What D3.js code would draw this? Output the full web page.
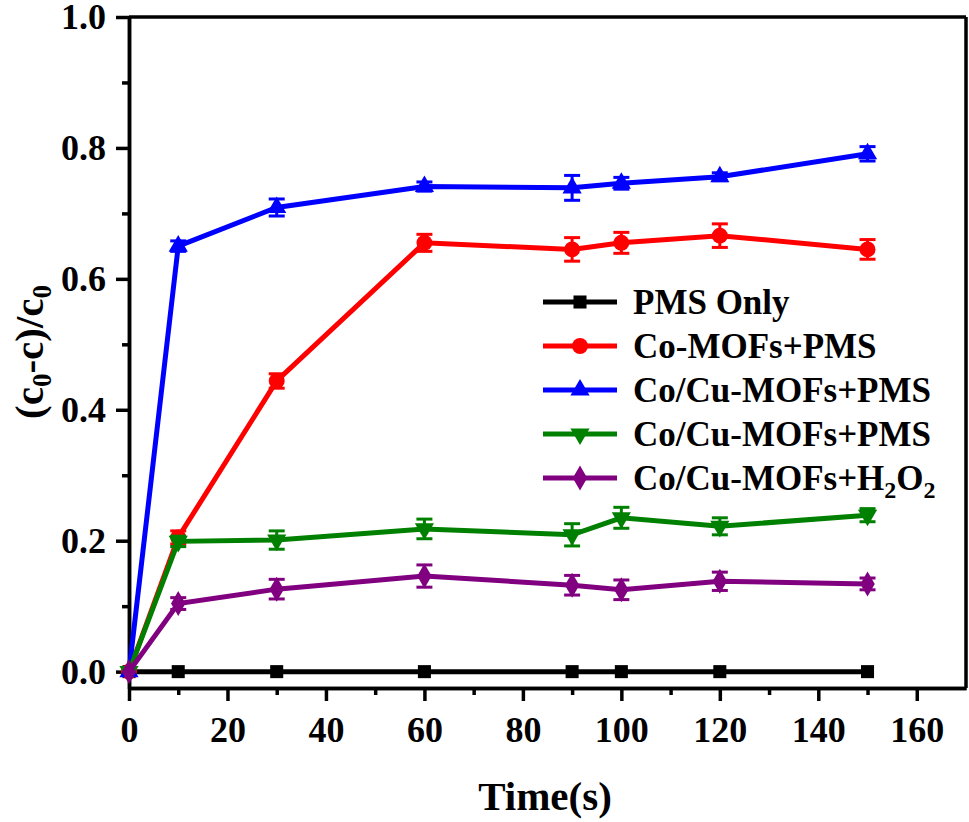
<!DOCTYPE html>
<html>
<head>
<meta charset="utf-8">
<script src="https://cdn.jsdelivr.net/npm/d3@7"></script>
<style>
  html, body { margin: 0; padding: 0; background: #fff; }
  svg text { font-family: "Liberation Serif", "Times New Roman", serif; font-weight: bold; fill: #000; }
</style>
</head>
<body>
<svg id="chart" width="969" height="822"></svg>
<script>
const times = [0, 10, 30, 60, 90, 100, 120, 150];
const pmsOnly     = [0, 0, 0, 0, 0, 0, 0, 0];
const pmsOnlyErr  = [0, 0, 0, 0, 0, 0, 0, 0];
const coPms       = [0, 0.205, 0.444, 0.655, 0.645, 0.655, 0.666, 0.645];
const coPmsErr    = [0, 0.010, 0.011, 0.013, 0.018, 0.016, 0.018, 0.015];
const coCuPms     = [0, 0.650, 0.709, 0.741, 0.739, 0.746, 0.756, 0.791];
const coCuPmsErr  = [0, 0.008, 0.013, 0.007, 0.019, 0.009, 0.006, 0.011];
const coCuPms2    = [0, 0.199, 0.201, 0.218, 0.209, 0.235, 0.222, 0.239];
const coCuPms2Err = [0, 0.008, 0.014, 0.015, 0.017, 0.016, 0.013, 0.010];
const coCuH2O2    = [0, 0.104, 0.126, 0.146, 0.132, 0.125, 0.138, 0.134];
const coCuH2O2Err = [0, 0.009, 0.015, 0.017, 0.015, 0.015, 0.014, 0.009];
const xTicks = [0, 20, 40, 60, 80, 100, 120, 140, 160];
const yTicks = [0.0, 0.2, 0.4, 0.6, 0.8, 1.0];

const series = [
  {name: "PMS Only", values: pmsOnly, err: pmsOnlyErr, color: "#000000", symbol: d3.symbolSquare, size: 170, rot: 0},
  {name: "Co-MOFs+PMS", values: coPms, err: coPmsErr, color: "#ff0000", symbol: d3.symbolCircle, size: 200, rot: 0},
  {name: "Co/Cu-MOFs+PMS", values: coCuPms, err: coCuPmsErr, color: "#0000ff", symbol: d3.symbolTriangle, size: 160, rot: 0},
  {name: "Co/Cu-MOFs+PMS", values: coCuPms2, err: coCuPms2Err, color: "#008000", symbol: d3.symbolTriangle, size: 160, rot: 180},
  {name: "Co/Cu-MOFs+H2O2", values: coCuH2O2, err: coCuH2O2Err, color: "#800080", symbol: d3.symbolDiamond, size: 180, rot: 0, sub: true}
];

const svg = d3.select("#chart");
const mLeft = 129, mRight = 966, mTop = 17, mBottom = 688;
const x = d3.scaleLinear().domain([0, 170]).range([mLeft, mRight]);
const y = d3.scaleLinear().domain([-0.025, 1.0]).range([mBottom, mTop]);

// Frame (top and right)
svg.append("line").attr("x1", mLeft).attr("x2", mRight).attr("y1", mTop).attr("y2", mTop)
  .attr("stroke", "#000").attr("stroke-width", 3.5);
svg.append("line").attr("x1", mRight).attr("x2", mRight).attr("y1", mTop).attr("y2", mBottom)
  .attr("stroke", "#000").attr("stroke-width", 3.5);

// Axes
const xAxis = d3.axisBottom(x).tickValues(xTicks).tickFormat(d3.format("d")).tickSize(13).tickSizeOuter(0).tickPadding(15);
const xMinor = d3.axisBottom(x).tickValues(d3.range(10, 170, 20)).tickFormat("").tickSize(7).tickSizeOuter(0);
const yAxis = d3.axisLeft(y).tickValues(yTicks).tickFormat(d3.format(".1f")).tickSize(13).tickSizeOuter(0).tickPadding(10);
const yMinor = d3.axisLeft(y).tickValues(d3.range(0.1, 1.0, 0.2)).tickFormat("").tickSize(7).tickSizeOuter(0);

function styleAxis(g) {
  g.select(".domain").attr("stroke", "#000").attr("stroke-width", 3.5);
  g.selectAll(".tick line").attr("stroke", "#000").attr("stroke-width", 3.5);
  g.selectAll("text").style("font-size", "36px").attr("fill", "#000");
}
const gx = svg.append("g").attr("transform", `translate(0,${mBottom})`).call(xAxis).call(styleAxis);
gx.selectAll(".tick text").attr("dy", "0.71em");
svg.append("g").attr("transform", `translate(0,${mBottom})`).call(xMinor).call(styleAxis);
const gy = svg.append("g").attr("transform", `translate(${mLeft},0)`).call(yAxis).call(styleAxis);
svg.append("g").attr("transform", `translate(${mLeft},0)`).call(yMinor).call(styleAxis);

// Axis titles
svg.append("text").attr("x", 545).attr("y", 810).attr("text-anchor", "middle")
  .style("font-size", "41px").text("Time(s)");
const yt = svg.append("text").attr("transform", "translate(43,352) rotate(-90)")
  .attr("text-anchor", "middle").style("font-size", "41px");
yt.append("tspan").text("(c");
yt.append("tspan").attr("dy", 8).style("font-size", "27px").text("0");
yt.append("tspan").attr("dy", -8).text("-c)/c");
yt.append("tspan").attr("dy", 8).style("font-size", "27px").text("0");

// Series
const line = d3.line().x((d, i) => x(times[i])).y(d => y(d));
series.forEach(s => {
  const g = svg.append("g");
  g.append("path").datum(s.values).attr("d", line).attr("fill", "none")
    .attr("stroke", s.color).attr("stroke-width", 5);
  s.values.forEach((v, i) => {
    const e = s.err[i];
    if (e > 0) {
      const cx = x(times[i]);
      g.append("line").attr("x1", cx).attr("x2", cx).attr("y1", y(v - e)).attr("y2", y(v + e))
        .attr("stroke", s.color).attr("stroke-width", 3);
      [v - e, v + e].forEach(c => {
        g.append("line").attr("x1", cx - 8).attr("x2", cx + 8).attr("y1", y(c)).attr("y2", y(c))
          .attr("stroke", s.color).attr("stroke-width", 3);
      });
    }
    g.append("path").attr("d", d3.symbol().type(s.symbol).size(s.size)())
      .attr("transform", `translate(${x(times[i])},${y(v)}) rotate(${s.rot})`)
      .attr("fill", s.color);
  });
});

// Legend
const legX1 = 543, legX2 = 617, legTextX = 633, legY0 = 302, legDy = 44;
series.forEach((s, i) => {
  const cy = legY0 + i * legDy;
  svg.append("line").attr("x1", legX1).attr("x2", legX2).attr("y1", cy).attr("y2", cy)
    .attr("stroke", s.color).attr("stroke-width", 5);
  svg.append("path").attr("d", d3.symbol().type(s.symbol).size(s.size)())
    .attr("transform", `translate(${(legX1 + legX2) / 2},${cy}) rotate(${s.rot})`)
    .attr("fill", s.color);
  const t = svg.append("text").attr("x", legTextX).attr("y", cy + 12).style("font-size", "35px");
  if (s.sub) {
    t.append("tspan").text("Co/Cu-MOFs+H");
    t.append("tspan").attr("dy", 8).style("font-size", "24px").text("2");
    t.append("tspan").attr("dy", -8).text("O");
    t.append("tspan").attr("dy", 8).style("font-size", "24px").text("2");
  } else {
    t.text(s.name);
  }
});
</script>
</body>
</html>
